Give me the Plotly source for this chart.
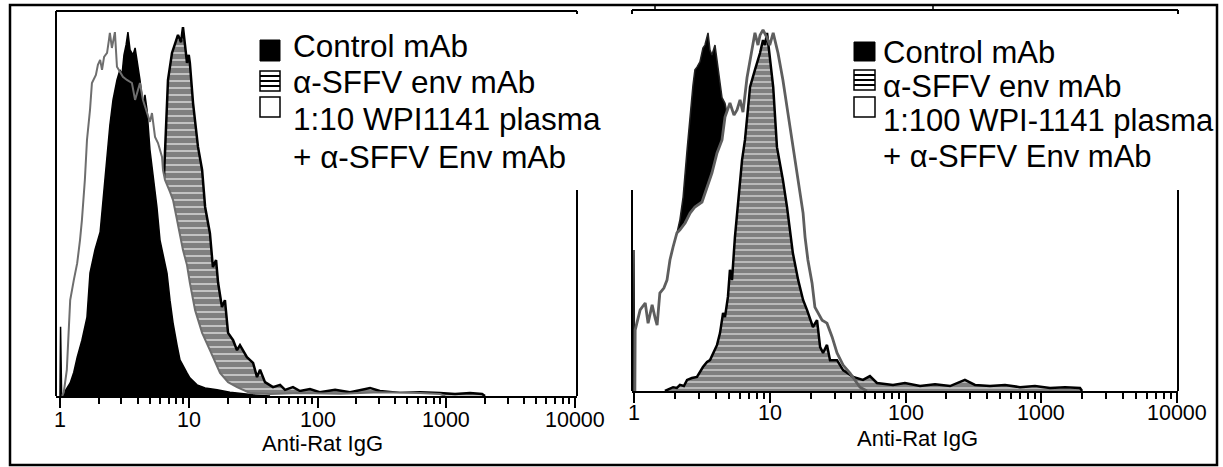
import math
import plotly.graph_objects as go

W, H = 1223, 467
FONT = "Liberation Sans, Arial, Helvetica, sans-serif"

# ---------------- data (fluorescence intensity, relative cell count %) ----------------
# Left panel: 1:10 WPI1141 plasma
ctrl_left_x = [1.0, 1.01, 1.03, 1.05, 1.11, 1.20, 1.28, 1.36, 1.48, 1.62, 1.71, 1.87, 2.05, 2.20,
               2.32, 2.44, 2.58, 2.77, 2.92, 3.03, 3.14, 3.26, 3.37, 3.50, 3.69, 3.83, 3.96, 4.18,
               4.41, 4.57, 4.74, 5.00, 5.28, 5.66, 5.98, 6.31, 6.78, 7.15, 7.55, 8.11, 8.55, 9.69,
               10.2, 11.6, 13.4, 16.6, 20.9, 31.6, 42.8]
ctrl_left_y = [0, 18, 0, 0, 1.6, 3.4, 6.2, 10.1, 14.5, 20.5, 32, 38, 42.6, 53.5,
               62, 70.4, 76.9, 82.1, 84.7, 83.4, 88.6, 91.2, 94.5, 89.9, 88.6, 90.4, 87.3, 82.1,
               75.6, 78.2, 74.3, 63.9, 57.4, 49.1, 40.5, 36.6, 31.9, 24.9, 19.0, 13.2, 9.4, 6.0,
               4.7, 2.9, 2.1, 1.6, 1.0, 0.3, 0]

env_left_x = [4.18, 5.00, 5.47, 5.98, 6.31, 6.54, 6.66, 6.78, 6.90, 7.41, 7.82, 8.25, 8.71, 9.02,
              9.35, 9.69, 10.0, 10.2, 10.8, 11.4, 11.8, 12.7, 13.4, 14.6, 15.4, 16.3, 16.9, 18.1,
              19.1, 20.2, 22.1, 23.7, 25.0, 28.3, 31.6, 33.9, 35.8, 39.1, 45.1, 51.2, 56.0, 64.5,
              73.1, 87.4, 104, 137, 179, 256, 305, 437, 626, 894, 1170, 1530, 1900, 2000]
env_left_y = [0, 6.8, 17.1, 35.3, 50.9, 63.9, 71.7, 76.1, 82.1, 89.1, 91.7, 93.8, 91.9, 95.8,
              91.2, 86.5, 88.6, 86.5, 76.1, 69.1, 64.7, 58.7, 49.1, 42.3, 33.5, 35.3, 29.4, 23.1,
              24.9, 16.4, 14.5, 11.9, 13.2, 10.1, 8.6, 4.9, 6.8, 3.6, 2.3, 2.9, 1.6, 2.3,
              1.3, 1.8, 1.0, 1.6, 1.0, 2.1, 1.3, 0.8, 1.0, 0.8, 0.5, 0.8, 0.5, 0]

plasma_left_x = [1.04, 1.07, 1.13, 1.20, 1.28, 1.36, 1.43, 1.48, 1.56, 1.62, 1.71, 1.77, 1.90, 1.97,
                 2.05, 2.12, 2.20, 2.32, 2.40, 2.44, 2.53, 2.67, 2.77, 2.92, 3.08, 3.31, 3.62, 3.83,
                 4.04, 4.18, 4.41, 4.57, 4.74, 5.00, 5.18, 5.47, 5.77, 6.20, 6.31, 6.54, 7.15, 7.55,
                 8.11, 9.02, 9.69, 10.2, 11.2, 12.7, 14.6, 17.5, 20.2, 23.7, 29.9, 42.8, 73, 150,
                 305, 625, 894, 980]
plasma_left_y = [0, 1.0, 6.8, 24.9, 30.1, 34.5, 40.5, 45.7, 56.1, 66.5, 74.3, 81.3, 83.4, 86.0,
                 87.3, 84.7, 88.1, 89.1, 92.5, 94.3, 90.4, 94.5, 85.5, 84.2, 82.9, 82.1, 81.3, 76.9,
                 79.5, 81.3, 76.9, 75.1, 73.8, 71.2, 73.5, 67.3, 65.7, 62.1, 58.7, 56.1, 53.0, 50.9,
                 45.7, 37.9, 34.0, 29.4, 22.3, 16.4, 11.9, 6.0, 3.6, 2.3, 0.8, 0.5, 0.8, 0.6,
                 1.0, 0.8, 0.5, 0]

# Right panel: 1:100 WPI-1141 plasma
ctrl_right_x = [0.99, 1.0, 1.01, 1.69, 1.84, 2.00, 2.18, 2.30, 2.46, 2.59, 2.72, 2.81, 2.91, 3.06,
                3.22, 3.33, 3.51, 3.63, 3.75, 3.95, 4.09, 4.30, 4.45, 4.68, 4.84, 5.54, 6.57, 8.48,
                11.9, 16.7]
ctrl_right_y = [0, 37, 0, 0, 18.6, 39.0, 45.0, 50.9, 63.3, 73.0, 80.3, 84.3, 85.0, 86.4,
                90.0, 90.8, 94.0, 89.5, 88.2, 90.8, 86.9, 81.5, 77.0, 75.5, 73.0, 57.0, 34.4, 13.4,
                1.6, 0]

env_right_x = [1.69, 1.84, 1.94, 2.07, 2.18, 2.33, 2.46, 2.67, 2.91, 3.22, 3.45, 3.63, 4.09, 4.30,
               4.53, 4.68, 4.92, 5.09, 5.27, 5.54, 5.84, 6.25, 6.57, 6.80, 7.16, 7.78, 8.48, 8.92,
               9.22, 9.55, 10.0, 10.6, 11.3, 12.5, 13.4, 14.1, 14.8, 16.2, 17.6, 18.8, 20.8, 22.3,
               23.5, 24.7, 26.4, 27.8, 31.3, 34.7, 41.1, 48.6, 54.7, 61.6, 80.9, 99, 128, 165,
               213, 274, 325, 419, 541, 697, 899, 1160, 1500, 1930, 2000]
env_right_y = [0, 0.5, 1.0, 0.8, 1.6, 1.3, 2.9, 3.4, 3.7, 6.3, 7.6, 8.1, 12.1, 15.2,
               20.5, 19.4, 24.7, 31.8, 29.1, 40.4, 49.3, 60.6, 65.9, 71.1, 79.8, 84.3, 88.7, 92.1,
               90.8, 94.0, 86.9, 79.8, 64.0, 55.4, 48.3, 41.5, 36.2, 29.1, 23.9, 21.3, 16.8, 18.6,
               11.5, 10.0, 12.1, 8.1, 8.1, 5.5, 3.7, 2.9, 3.9, 2.1, 1.6, 2.1, 1.3, 1.8,
               1.3, 2.9, 1.6, 1.3, 1.6, 1.0, 1.3, 0.8, 1.0, 0.8, 0]

plasma_right_x = [1.015, 1.02, 1.11, 1.21, 1.27, 1.36, 1.43, 1.48, 1.55, 1.66, 1.75, 1.84, 1.94, 2.07,
                  2.18, 2.38, 2.59, 2.81, 3.17, 3.45, 3.75, 4.09, 4.45, 4.68, 5.09, 5.45, 5.74, 6.04,
                  6.35, 6.80, 7.16, 7.40, 7.78, 8.19, 8.48, 8.92, 9.55, 10.0, 10.6, 11.5, 12.5, 13.6,
                  14.6, 15.3, 16.7, 17.6, 18.2, 19.1, 20.5, 21.5, 24.3, 26.4, 28.8, 31.3, 34.7, 39.0,
                  46.2, 52.0]
plasma_right_y = [0, 16.0, 21.3, 23.1, 17.8, 22.6, 19.2, 17.3, 25.7, 27.0, 29.1, 34.4, 37.8, 41.5,
                  42.3, 44.1, 46.7, 48.3, 49.6, 53.5, 57.2, 62.5, 65.9, 71.9, 75.6, 72.4, 73.8, 76.4,
                  73.2, 82.2, 86.9, 89.5, 94.0, 90.8, 93.4, 94.8, 92.7, 90.8, 94.0, 88.7, 81.6, 73.0,
                  65.9, 60.6, 52.0, 46.7, 40.4, 34.4, 28.3, 22.0, 18.6, 17.8, 14.2, 10.0, 6.8, 4.7,
                  1.0, 0]

tick_vals = [1, 10, 100, 1000, 10000]
tick_text = ["1", "10", "100", "1000", "10000"]
minor_vals = [m * 10 ** k for k in range(4) for m in range(2, 10)]
axis_title = "Anti-Rat IgG"
legend_left = ["Control mAb", "α-SFFV env mAb", "1:10 WPI1141 plasma", "+ α-SFFV Env mAb"]
legend_right = ["Control mAb", "α-SFFV env mAb", "1:100 WPI-1141 plasma", "+ α-SFFV Env mAb"]

# ---------------- figure ----------------
fig = go.Figure()


def add(x, y, xa, ya, **kw):
    fig.add_trace(go.Scatter(x=x, y=y, xaxis=xa, yaxis=ya, mode="lines",
                             hoverinfo="skip", showlegend=False, **kw))


STRIPE = dict(shape="-", fgcolor="black", bgcolor="white", solidity=0.85)

# left panel: stripes -> plasma white fill -> control -> plasma line
add(env_left_x, env_left_y, "x", "y", fill="tozeroy", fillcolor="white",
    fillpattern=dict(STRIPE, size=7), line=dict(color="black", width=2.5))
add(plasma_left_x, plasma_left_y, "x", "y", fill="tozeroy", fillcolor="white",
    line=dict(color="rgba(0,0,0,0)", width=0))
add(ctrl_left_x, ctrl_left_y, "x", "y", fill="tozeroy", fillcolor="black",
    line=dict(color="black", width=1.5))
add(plasma_left_x, plasma_left_y, "x", "y", line=dict(color="#6e6e6e", width=2.0))

# right panel: control -> plasma white fill -> stripes -> plasma line
add(ctrl_right_x, ctrl_right_y, "x2", "y2", fill="tozeroy", fillcolor="black",
    line=dict(color="#222", width=1.5))
add(plasma_right_x, plasma_right_y, "x2", "y2", fill="tozeroy", fillcolor="white",
    line=dict(color="rgba(0,0,0,0)", width=0))
add(env_right_x, env_right_y, "x2", "y2", fill="tozeroy", fillcolor="white",
    fillpattern=dict(STRIPE, size=6), line=dict(color="black", width=2.5))
add(plasma_right_x, plasma_right_y, "x2", "y2", line=dict(color="#5e5e5e", width=2.8))


def PX(px):
    return px / W


def PY(py):
    return 1 - py / H


def xaxis(left_px, right_px, one_px, decade_px, anchor):
    return dict(type="log", domain=[PX(left_px), PX(right_px)],
                range=[(left_px - one_px) / decade_px, (right_px - one_px) / decade_px],
                anchor=anchor, showline=True, linecolor="black", linewidth=2,
                ticks="outside", ticklen=10, tickwidth=2, tickcolor="black",
                tickvals=tick_vals, showticklabels=False,
                showgrid=False, zeroline=False, fixedrange=True,
                minor=dict(ticks="outside", ticklen=6, tickwidth=1.5, tickcolor="black",
                           tickvals=minor_vals, showgrid=False))


def yaxis(base_px, top_px, anchor):
    return dict(domain=[PY(base_px), PY(top_px)], range=[0, 100], visible=False,
                anchor=anchor, fixedrange=True)


shapes = []


def line(x0, y0, x1, y1, w=2):
    shapes.append(dict(type="line", xref="paper", yref="paper",
                       x0=PX(x0), y0=PY(y0), x1=PX(x1), y1=PY(y1),
                       line=dict(color="black", width=w)))


def rect(x0, y0, x1, y1, fill="rgba(0,0,0,0)", w=1.5):
    shapes.append(dict(type="rect", xref="paper", yref="paper",
                       x0=PX(x0), y0=PY(y0), x1=PX(x1), y1=PY(y1),
                       fillcolor=fill, line=dict(color="black", width=w)))


# outer frame
rect(10, 5, 1217, 465, w=2.5)
# left panel frame
line(56, 11, 577, 11)
line(56, 11, 56, 396)
line(577, 11, 577, 14)
line(577, 190, 577, 396)
# right panel frame
line(632, 10, 1178, 10)
line(632, 10, 632, 14)
line(632, 190, 632, 391)
line(1178, 10, 1178, 14)
line(1178, 190, 1178, 391)
# small stray ticks on top edge
line(655, 5, 655, 10, w=1.5)
line(933, 5, 933, 10, w=1.5)


def legend_symbols(x0, x1, tops):
    (b0, b1), (s0, s1), (o0, o1) = tops
    rect(x0, b0, x1, b1, fill="black", w=1)
    rect(x0, s0, x1, s1, fill="white", w=1.5)
    for k in range(1, 4):
        yy = s0 + (s1 - s0) * k / 4
        line(x0, yy, x1, yy, w=2)
    rect(x0, o0, x1, o1, fill="white", w=1.5)


legend_symbols(260, 280, [(40, 61), (71, 91), (97, 117)])
legend_symbols(854, 875, [(42, 61), (70, 90), (97, 117)])

annotations = []


def text(s, xpx, ypx, size, anchor="left"):
    annotations.append(dict(text=s, xref="paper", yref="paper", x=PX(xpx), y=PY(ypx),
                            xanchor=anchor, yanchor="middle", showarrow=False,
                            font=dict(family=FONT, size=size, color="black")))


for s, yc in zip(legend_left, [46, 82, 119, 157]):
    text(s, 291, yc, 31.5)
for s, yc in zip(legend_right, [53, 86, 121, 156]):
    text(s, 881, yc, 31)

text(axis_title, 322, 443, 22, anchor="center")
text(axis_title, 917, 438, 22, anchor="center")

# tick labels (placed on the log axes, in data units)
for xa, ypx in (("x", 420), ("x2", 413)):
    for v, t in zip(tick_vals, tick_text):
        annotations.append(dict(text=t, xref=xa, yref="paper", x=math.log10(v), y=PY(ypx),
                                xanchor="center", yanchor="middle", showarrow=False,
                                font=dict(family=FONT, size=21.5, color="black")))

fig.update_layout(
    width=W, height=H, autosize=False, margin=dict(l=0, r=0, t=0, b=0, pad=0),
    paper_bgcolor="white", plot_bgcolor="rgba(0,0,0,0)",
    xaxis=xaxis(56, 577, 60, 128.75, "y"),
    yaxis=yaxis(396, 11, "x"),
    xaxis2=xaxis(632, 1178, 634, 135.75, "y2"),
    yaxis2=yaxis(391, 10, "x2"),
    shapes=shapes, annotations=annotations, showlegend=False,
)

POST = ("document.documentElement.style.margin='0';document.body.style.margin='0';"
        "document.body.style.padding='0';document.body.style.overflow='hidden';"
        "document.documentElement.style.overflow='hidden';"
        "var gd=document.getElementById('{plot_id}');gd.style.width='1223px';gd.style.height='467px';"
        "Plotly.relayout(gd,{width:1223,height:467});")

fig.write_html("out.html", config={"displayModeBar": False, "responsive": False},
               default_width="1223px", default_height="467px", post_script=POST)
